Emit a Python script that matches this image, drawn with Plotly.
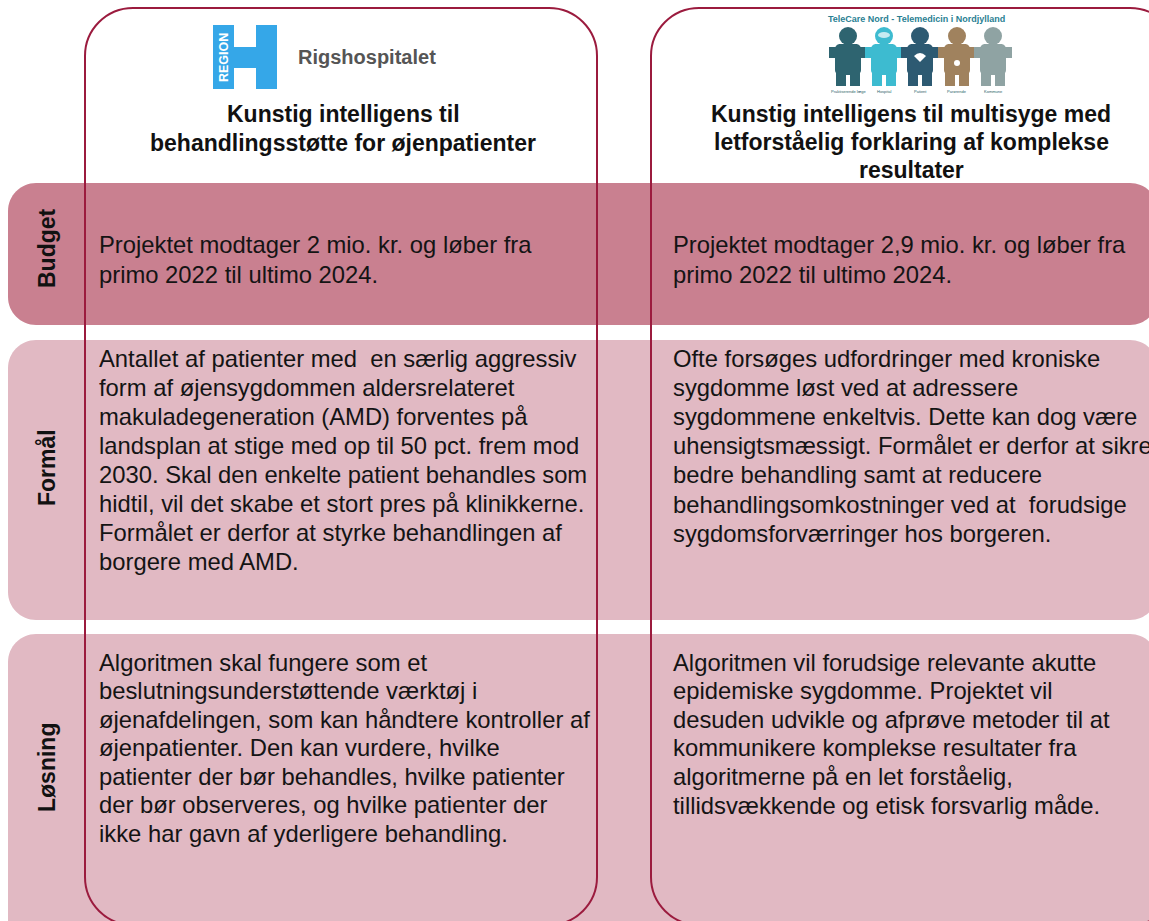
import plotly.graph_objects as go

W, H = 1149, 921

# ---- content ----
row_labels = ["Budget", "Formål", "Løsning"]
header_left = ["Kunstig intelligens til", "behandlingsstøtte for øjenpatienter"]
header_right = ["Kunstig intelligens til multisyge med",
                "letforståelig forklaring af komplekse", "resultater"]
budget_left = ["Projektet modtager 2 mio. kr. og løber fra", "primo 2022 til ultimo 2024."]
budget_right = ["Projektet modtager 2,9 mio. kr. og løber fra", "primo 2022 til ultimo 2024."]
formaal_left = [
    "Antallet af patienter med  en særlig aggressiv",
    "form af øjensygdommen aldersrelateret",
    "makuladegeneration (AMD) forventes på",
    "landsplan at stige med op til 50 pct. frem mod",
    "2030. Skal den enkelte patient behandles som",
    "hidtil, vil det skabe et stort pres på klinikkerne.",
    "Formålet er derfor at styrke behandlingen af",
    "borgere med AMD.",
]
formaal_right = [
    "Ofte forsøges udfordringer med kroniske",
    "sygdomme løst ved at adressere",
    "sygdommene enkeltvis. Dette kan dog være",
    "uhensigtsmæssigt. Formålet er derfor at sikre",
    "bedre behandling samt at reducere",
    "behandlingsomkostninger ved at  forudsige",
    "sygdomsforværringer hos borgeren.",
]
loesning_left = [
    "Algoritmen skal fungere som et",
    "beslutningsunderstøttende værktøj i",
    "øjenafdelingen, som kan håndtere kontroller af",
    "øjenpatienter. Den kan vurdere, hvilke",
    "patienter der bør behandles, hvilke patienter",
    "der bør observeres, og hvilke patienter der",
    "ikke har gavn af yderligere behandling.",
]
loesning_right = [
    "Algoritmen vil forudsige relevante akutte",
    "epidemiske sygdomme. Projektet vil",
    "desuden udvikle og afprøve metoder til at",
    "kommunikere komplekse resultater fra",
    "algoritmerne på en let forståelig,",
    "tillidsvækkende og etisk forsvarlig måde.",
]
logo_left_name = "Rigshospitalet"
logo_left_vert = "REGION"
logo_right_title = "TeleCare Nord - Telemedicin i Nordjylland"
logo_right_people = ["Praktiserende læge", "Hospital", "Patient", "Pårørende", "Kommune"]
people_colors = ["#2E6470", "#3DBBD0", "#2D5A72", "#A0825E", "#8FA3A3"]

DARK = "#C98090"
LIGHT = "#E1B9C3"
LINE = "#9B1B3E"
FONT = "Liberation Sans, Arial, sans-serif"
BODY_SIZE = 23.8
HEAD_SIZE = 23


def rrect(x0, y0, x1, y1, r):
    k = 0.5523 * r
    return (f"M{x0+r},{y0} L{x1-r},{y0} C{x1-r+k},{y0} {x1},{y0+r-k} {x1},{y0+r} "
            f"L{x1},{y1-r} C{x1},{y1-r+k} {x1-r+k},{y1} {x1-r},{y1} "
            f"L{x0+r},{y1} C{x0+r-k},{y1} {x0},{y1-r+k} {x0},{y1-r} "
            f"L{x0},{y0+r} C{x0},{y0+r-k} {x0+r-k},{y0} {x0+r},{y0} Z")


shapes = []
ann = []

# bands
for (y0, y1, col) in [(183, 325, DARK), (340, 620, LIGHT), (634, 960, LIGHT)]:
    shapes.append(dict(type="path", path=rrect(8, y0, 1158, y1, 28),
                       fillcolor=col, line=dict(width=0), layer="below"))

# column outlines
for (x0, x1) in [(85, 597), (651, 1178)]:
    shapes.append(dict(type="path", path=rrect(x0, 8, x1, 925, 48),
                       fillcolor="rgba(0,0,0,0)", line=dict(color=LINE, width=2)))

# Region H logo
BLUE = "#35A7E8"
for (x0, y0, x1, y1) in [(213, 25, 234, 89), (256, 25, 277, 89), (234, 47, 256, 68)]:
    shapes.append(dict(type="rect", x0=x0, y0=y0, x1=x1, y1=y1,
                       fillcolor=BLUE, line=dict(width=0)))
ann.append(dict(x=224, y=58, text=f"<b>{logo_left_vert}</b>", textangle=-90,
                showarrow=False, font=dict(family=FONT, size=12.5, color="white")))
ann.append(dict(x=296, y=57, text=f"<b>{logo_left_name}</b>", xanchor="left",
                showarrow=False, font=dict(family=FONT, size=20, color="#555555")))

# TeleCare logo
ann.append(dict(x=916, y=19, text=f"<b>{logo_right_title}</b>", showarrow=False,
                font=dict(family=FONT, size=9, color="#2A7F93")))
centers = [848, 884, 920, 957, 993]
for c, col, lab in zip(centers, people_colors, logo_right_people):
    shapes.append(dict(type="circle", x0=c-9, y0=27, x1=c+9, y1=45,
                       fillcolor=col, line=dict(width=0)))
    shapes.append(dict(type="path", path=rrect(c-13, 44, c+13, 75, 5),
                       fillcolor=col, line=dict(width=0)))
    shapes.append(dict(type="rect", x0=c-19, y0=47, x1=c+19, y1=58,
                       fillcolor=col, line=dict(width=0)))
    shapes.append(dict(type="rect", x0=c-12, y0=70, x1=c-2, y1=86,
                       fillcolor=col, line=dict(width=0)))
    shapes.append(dict(type="rect", x0=c+2, y0=70, x1=c+12, y1=86,
                       fillcolor=col, line=dict(width=0)))
    ann.append(dict(x=c, y=91, text=lab, showarrow=False,
                    font=dict(family=FONT, size=4, color="#2A5F6A")))
# small white details
shapes.append(dict(type="path", path="M914,56 Q920,50 926,56 L920,62 Z",
                   fillcolor="white", line=dict(width=0)))
shapes.append(dict(type="circle", x0=878, y0=32, x1=890, y1=38,
                   fillcolor="rgba(255,255,255,0.7)", line=dict(width=0)))
shapes.append(dict(type="circle", x0=954, y0=60, x1=960, y1=66,
                   fillcolor="white", line=dict(width=0)))

# headers
for i, t in enumerate(header_left):
    ann.append(dict(x=343, y=114 + i * 29, text=f"<b>{t}</b>", showarrow=False,
                    font=dict(family=FONT, size=HEAD_SIZE, color="#111111")))
for i, t in enumerate(header_right):
    ann.append(dict(x=911, y=114 + i * 28, text=f"<b>{t}</b>", showarrow=False,
                    font=dict(family=FONT, size=HEAD_SIZE, color="#111111")))

# row labels
for lab, y in zip(row_labels, [248, 468, 768]):
    ann.append(dict(x=47, y=y, text=f"<b>{lab}</b>", textangle=-90, showarrow=False,
                    font=dict(family=FONT, size=HEAD_SIZE, color="#111111")))


def block(lines, x, y0, dy):
    for i, t in enumerate(lines):
        ann.append(dict(x=x, y=y0 + i * dy, text=t, xanchor="left", yanchor="middle",
                        showarrow=False,
                        font=dict(family=FONT, size=BODY_SIZE, color="#141414")))


block(budget_left, 97, 244, 30)
block(budget_right, 671, 244, 30)
block(formaal_left, 97, 358, 29.1)
block(formaal_right, 671, 358, 29.2)
block(loesning_left, 97, 662, 28.5)
block(loesning_right, 671, 662, 28.6)

fig = go.Figure()
fig.update_layout(
    width=W, height=H, margin=dict(l=0, r=0, t=0, b=0),
    paper_bgcolor="white", plot_bgcolor="white",
    xaxis=dict(range=[0, W], visible=False, fixedrange=True),
    yaxis=dict(range=[H, 0], visible=False, fixedrange=True),
    shapes=shapes, annotations=ann, showlegend=False,
)
fig.write_html("out.html", config={"displayModeBar": False},
               post_script="document.body.style.margin='0px';"
                           "document.body.style.overflow='hidden';")
